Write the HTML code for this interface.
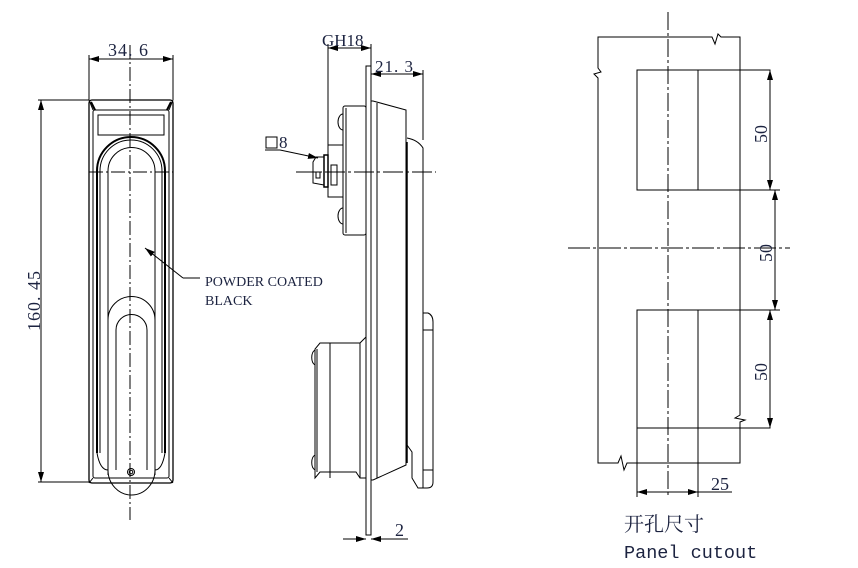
<!DOCTYPE html>
<html><head><meta charset="utf-8"><style>
html,body{margin:0;padding:0;background:#fff;width:858px;height:568px;overflow:hidden}
svg{display:block}
text{font-family:"Liberation Serif","Noto Serif CJK SC",serif;fill:#1c2340}
</style></head><body>
<svg width="858" height="568" viewBox="0 0 858 568" xmlns="http://www.w3.org/2000/svg">
<defs>
<marker id="a" viewBox="0 0 10 6" refX="10" refY="3" markerWidth="10" markerHeight="6" orient="auto-start-reverse" markerUnits="userSpaceOnUse"><path d="M0,0 L10,3 L0,6 z" fill="#000"/></marker>
</defs>
<g stroke="#000" stroke-width="1" fill="none">
<!-- LEFT VIEW -->
<line x1="130" y1="45" x2="130" y2="520" stroke-dasharray="14,3,2,3"/>
<line x1="89" y1="172" x2="173" y2="172" stroke-dasharray="14,3,2,3"/>
<rect x="89" y="100" width="84" height="383" rx="3" stroke-width="1.3"/>
<rect x="93" y="110" width="76" height="368" rx="2"/>
<path d="M89,100 L93,110 M173,100 L169,110 M89,483 L93,478 M173,483 L169,478"/>
<path d="M91,102 L95,110 M171,102 L167,110" stroke-width="2"/>
<rect x="98" y="115" width="66" height="20"/>
<path d="M97,453 L97,171 A34,34 0 0 1 165,171 L165,453" stroke-width="2"/>
<path d="M100,453 L100,171 A31,31 0 0 1 162,171 L162,453"/>
<path d="M108,330 L108,171 A23.5,23.5 0 0 1 155,171 L155,330"/>
<path d="M108,475 L108,320 A23.5,23.5 0 0 1 155,320 L155,475"/>
<path d="M116,470 L116,330 A15.5,15.5 0 0 1 147,330 L147,470"/>
<path d="M108,470 A23.5,25 0 0 0 155,470"/>
<path d="M97,453 Q100,470 108,470 M165,453 Q162,470 155,470"/>
<circle cx="131" cy="472" r="3.5"/><circle cx="131" cy="472" r="1.8"/>
<!-- dims left -->
<line x1="89" y1="100" x2="89" y2="55"/><line x1="173" y1="100" x2="173" y2="55"/>
<line x1="89" y1="59" x2="173" y2="59" marker-start="url(#a)" marker-end="url(#a)"/>
<line x1="38" y1="100" x2="89" y2="100"/><line x1="38" y1="482" x2="89" y2="482"/>
<line x1="41" y1="100" x2="41" y2="482" marker-start="url(#a)" marker-end="url(#a)"/>
<line x1="145" y1="248" x2="183" y2="278" marker-start="url(#a)"/><line x1="183" y1="278" x2="200" y2="278"/>

<!-- MIDDLE VIEW -->
<line x1="296" y1="172" x2="436" y2="172" stroke-dasharray="20,3,3,3"/>
<rect x="366" y="66" width="5" height="469"/>
<path d="M371,101 L373,101 L406,110 L406,465 L373,480 L371,480"/>
<line x1="377" y1="103" x2="377" y2="478"/>
<line x1="407" y1="142" x2="407" y2="463" stroke-width="1.5"/>
<path d="M407,138 Q418,140 423,148 L423,488 L418,488 L412,478 L412,452 L407,445"/>
<path d="M423,313 L428,313 Q433,315 433,322 L433,482 Q433,488 427,488 L423,488"/>
<line x1="423" y1="330" x2="433" y2="330"/><line x1="423" y1="470" x2="433" y2="470"/>
<rect x="343" y="106" width="23" height="129" rx="2"/>
<line x1="346" y1="108" x2="346" y2="233"/>
<path d="M343,114 A5,8 0 0 0 343,130 M343,208 A5,8 0 0 0 343,224"/>
<rect x="328" y="145" width="15" height="52"/>
<rect x="331" y="165" width="6" height="20"/>
<rect x="324" y="155" width="4" height="32" stroke-width="1.5"/>
<path d="M324,157 L316,157 L313,162 L313,183 L324,185"/>
<rect x="316" y="172" width="4" height="6"/>
<path d="M315,478 L315,349 L320,343 L360,343 L366,337 L366,478 L360,478 L356,472 L320,472 Z"/>
<line x1="317" y1="349" x2="317" y2="472"/><line x1="330" y1="343" x2="330" y2="478"/><line x1="360" y1="343" x2="360" y2="478"/>
<path d="M315,350 A5,8 0 0 0 315,365 M315,455 A5,8 0 0 0 315,470"/>
<!-- dims middle -->
<line x1="328" y1="145" x2="328" y2="44"/><line x1="371" y1="66" x2="371" y2="44"/>
<line x1="328" y1="48" x2="371" y2="48" marker-start="url(#a)" marker-end="url(#a)"/>
<line x1="423" y1="140" x2="423" y2="70"/>
<line x1="371" y1="74" x2="423" y2="74" marker-start="url(#a)" marker-end="url(#a)"/>
<rect x="266" y="137" width="11" height="11"/>
<line x1="265" y1="150" x2="280" y2="150"/><line x1="280" y1="150" x2="318" y2="158" marker-end="url(#a)"/>
<line x1="343" y1="539" x2="366" y2="539" marker-end="url(#a)"/>
<line x1="371" y1="539" x2="408" y2="539" marker-start="url(#a)"/>

<!-- RIGHT VIEW -->
<line x1="668" y1="12" x2="668" y2="497" stroke-dasharray="18,3,3,3"/>
<line x1="568" y1="248" x2="790" y2="248" stroke-dasharray="22,3,3,3"/>
<path d="M598,463 L598,78 L594,74 L601,72 L598,68 L598,37 L712,37 L715,44 L718,34 L721,37 L740,37 L740,415 L735,418 L745,420 L740,422 L740,463 L627,463 L624,470 L621,456 L618,463 Z"/>
<rect x="637" y="70" width="133" height="120"/>
<line x1="698" y1="70" x2="698" y2="190"/>
<rect x="637" y="310" width="133" height="118"/>
<line x1="698" y1="310" x2="698" y2="497"/>
<line x1="637" y1="428" x2="637" y2="497"/>
<line x1="770" y1="70" x2="770" y2="190" marker-start="url(#a)" marker-end="url(#a)"/>
<line x1="775" y1="190" x2="775" y2="310" marker-start="url(#a)" marker-end="url(#a)"/>
<line x1="770" y1="310" x2="770" y2="428" marker-start="url(#a)" marker-end="url(#a)"/>
<line x1="770" y1="190" x2="780" y2="190"/><line x1="770" y1="310" x2="780" y2="310"/>
<line x1="637" y1="492" x2="698" y2="492" marker-start="url(#a)" marker-end="url(#a)"/>
<line x1="698" y1="492" x2="732" y2="492"/>
</g>
<g font-size="18">
<text x="108" y="56" letter-spacing="1">34. 6</text>
<text transform="translate(40,331) rotate(-90)" letter-spacing="1">160. 45</text>
<text x="205" y="286" font-size="14">POWDER COATED</text>
<text x="205" y="305" font-size="14">BLACK</text>
<text x="322" y="46" font-size="17">GH18</text>
<text x="375" y="72" font-size="17" letter-spacing="1">21. 3</text>
<text x="279" y="148" font-size="17">8</text>
<text x="395" y="536">2</text>
<text transform="translate(767,143) rotate(-90)">50</text>
<text transform="translate(772,262) rotate(-90)">50</text>
<text transform="translate(767,381) rotate(-90)">50</text>
<text x="711" y="490">25</text>
<text x="624" y="531" font-size="20" style="font-family:'Noto Serif CJK SC','Noto Sans CJK SC',serif">开孔尺寸</text>
<text x="624" y="558" font-size="18.5" style="font-family:'Liberation Mono',monospace">Panel cutout</text>
</g>
</svg>
</body></html>
